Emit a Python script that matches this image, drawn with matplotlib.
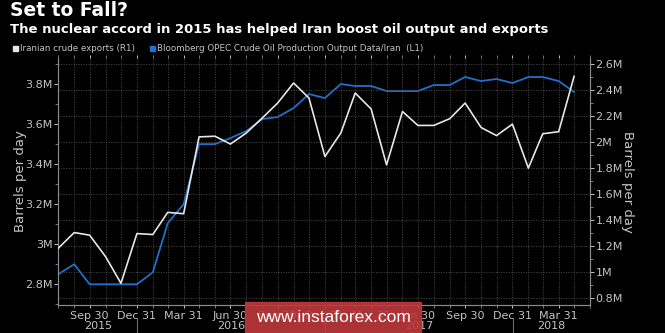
import matplotlib
matplotlib.use("Agg")
import matplotlib.pyplot as plt
import matplotlib.dates as mdates
from matplotlib.ticker import FuncFormatter, MultipleLocator
import matplotlib.transforms as mtransforms
from matplotlib import font_manager
import pandas as pd
import numpy as np

# ---- data ----
months = pd.date_range("2015-07-31", periods=34, freq="ME")
opec_output_m = [2.85, 2.90, 2.80, 2.80, 2.80, 2.80, 2.86, 3.105, 3.20, 3.50,
                 3.50, 3.53, 3.565, 3.625, 3.635, 3.68, 3.75, 3.73, 3.80, 3.79,
                 3.79, 3.765, 3.765, 3.765, 3.795, 3.795, 3.835, 3.815, 3.825, 3.805,
                 3.835, 3.835, 3.815, 3.76]
exports_m = [1.185, 1.305, 1.285, 1.12, 0.915, 1.297, 1.29, 1.46, 1.45, 2.04,
             2.045, 1.985, 2.07, 2.185, 2.30, 2.454, 2.338, 1.889, 2.07, 2.377,
             2.254, 1.825, 2.235, 2.128, 2.128, 2.18, 2.30, 2.112, 2.05, 2.138,
             1.80, 2.064, 2.08, 2.505]
years = ["2015", "2016", "2017", "2018"]
title = "Set to Fall?"
subtitle = "The nuclear accord in 2015 has helped Iran boost oil output and exports"
legend_white = "Iranian crude exports (R1)"
legend_blue = "Bloomberg OPEC Crude Oil Production Output Data/Iran  (L1)"
ylabel = "Barrels per day"
watermark = "www.instaforex.com"

names = {f.name for f in font_manager.fontManager.ttflist}
narrow_ok = "Liberation Sans Narrow" in names
NARROW = ["Liberation Sans Narrow", "DejaVu Sans"] if narrow_ok else ["DejaVu Sans"]

BG = "black"
TXT = "#c4c4c4"
GRID = "#454545"
BLUE = "#2270c8"
WHITE = "#e6e6e6"

fig = plt.figure(figsize=(6.65, 3.33), dpi=100, facecolor=BG)
ax = fig.add_axes([58.3/665, 1-305/333, (590-58.3)/665, (305-58)/333])
ax.set_facecolor(BG)
ax2 = ax.twinx()

opec = np.array(opec_output_m) * 1e6
expo = np.array(exports_m) * 1e6

ax.plot(months, opec, color=BLUE, lw=1.3, zorder=3)
ax2.plot(months, expo, color=WHITE, lw=1.2, zorder=3)

ax.set_xlim(pd.Timestamp("2015-07-31"), pd.Timestamp("2018-05-31"))
ax.set_ylim(2.6965e6, 3.93e6)
ax2.set_ylim(0.7485e6, 2.646e6)

fmt = FuncFormatter(lambda v, p: f"{v/1e6:g}M")
ax.yaxis.set_major_locator(MultipleLocator(0.2e6))
ax.yaxis.set_minor_locator(MultipleLocator(0.1e6))
ax.yaxis.set_major_formatter(fmt)
ax2.yaxis.set_major_locator(MultipleLocator(0.2e6))
ax2.yaxis.set_minor_locator(MultipleLocator(0.1e6))
ax2.yaxis.set_major_formatter(fmt)

ax.xaxis.set_major_locator(mdates.MonthLocator(bymonth=[3, 6, 9, 12], bymonthday=-1))
ax.xaxis.set_minor_locator(mdates.MonthLocator(bymonthday=-1))
ax.xaxis.set_major_formatter(mdates.DateFormatter("%b %d"))

tick_size = 9 if narrow_ok else 8
for a in (ax, ax2):
    for s in a.spines.values():
        s.set_color("#8a8a8a")
        s.set_linewidth(0.8)
    a.spines["top"].set_visible(False)
    a.tick_params(colors=TXT, labelsize=tick_size, length=3, width=0.7)
    a.tick_params(which="minor", colors="#8a8a8a", length=2, width=0.6)
    for lab in a.get_xticklabels() + a.get_yticklabels():
        lab.set_family(NARROW)
ax.tick_params(axis="x", which="both", length=2, pad=2, top=True)
ax.tick_params(axis="y", pad=1)
ax2.tick_params(axis="y", pad=1)

ax.grid(which="minor", axis="x", color=GRID, lw=0.6, ls=(0, (1.5, 1.5)))
ax.grid(which="major", axis="x", color=GRID, lw=0.6, ls=(0, (1.5, 1.5)))
ax2.grid(which="major", axis="y", color=GRID, lw=0.6, ls=(0, (1.5, 1.5)))
ax.set_axisbelow(True)
ax2.set_zorder(ax.get_zorder() + 1)
ax2.patch.set_visible(False)

ax.set_ylabel(ylabel, color=TXT, fontsize=9.5, va="center")
ax.yaxis.set_label_coords(-0.072, 0.5)
ax2.set_ylabel(ylabel, color=TXT, fontsize=9.5, rotation=270, va="center")
ax2.yaxis.set_label_coords(1.0696, 0.5)

# year labels and separators
trans = mtransforms.blended_transform_factory(ax.transData, fig.transFigure)
xmin, xmax = ax.get_xlim()
bounds = [xmin] + [mdates.date2num(pd.Timestamp(f"{y}-01-01")) for y in years[1:]] + [xmax]
for i, y in enumerate(years):
    c = (bounds[i] + bounds[i+1]) / 2
    fig.text(c, 1-326/333, y, transform=trans, ha="center", va="center", color=TXT,
             fontsize=tick_size, family=NARROW)
for b in bounds[1:-1]:
    fig.add_artist(plt.Line2D([b, b], [1-318/333, 0], transform=trans, color="#6a6a6a", lw=0.8))

# titles and legend
fig.text(10/665, 1-11/333, title, color="white", fontsize=13.5, fontweight="bold", va="center", ha="left")
fig.text(10/665, 1-29/333, subtitle, color="white", fontsize=9.45, fontweight="bold", va="center", ha="left")
leg_size = 7.5 if narrow_ok else 6.3
fig.patches.append(plt.Rectangle((13/665, 1-51/333), 5/665, 5/333, transform=fig.transFigure,
                                 color=WHITE, figure=fig))
fig.text(20/665, 1-48.5/333, legend_white, color=TXT, fontsize=leg_size, va="center", ha="left", family=NARROW)
fig.patches.append(plt.Rectangle((150/665, 1-51/333), 5/665, 5/333, transform=fig.transFigure,
                                 color=BLUE, figure=fig))
fig.text(157/665, 1-48.5/333, legend_blue, color=TXT, fontsize=leg_size, va="center", ha="left", family=NARROW)

# watermark
fig.patches.append(plt.Rectangle((245/665, 0), (421-245)/665, (333-302)/333, transform=fig.transFigure,
                                 color="#c0393b", alpha=0.9, figure=fig, zorder=10))
fig.text(333/665, 1-318/333, watermark, color="white", fontsize=12.5, va="center", ha="center",
         zorder=11, family=["Liberation Sans", "DejaVu Sans"])

fig.savefig("out.png", dpi=100, facecolor=BG)
